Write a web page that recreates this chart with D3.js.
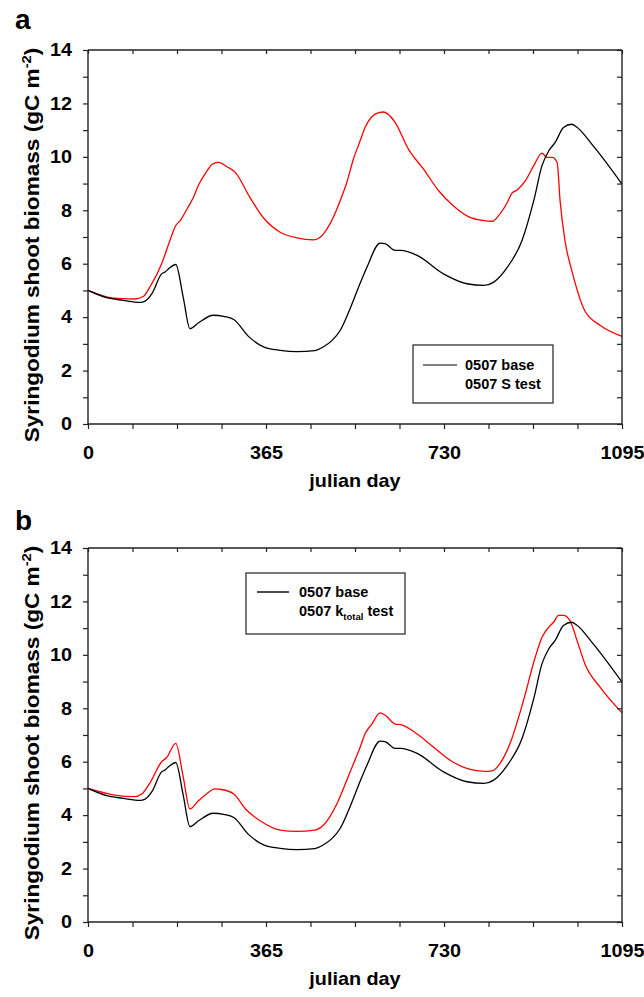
<!DOCTYPE html>
<html>
<head>
<meta charset="utf-8">
<script src="https://cdn.jsdelivr.net/npm/d3@7"></script>
<style>
  html, body { margin: 0; padding: 0; background: #fff; }
  svg { display: block; font-family: "Liberation Sans", Arial, Helvetica, sans-serif; }
  .tick text { font-weight: bold; }
</style>
</head>
<body>
<svg id="chart" width="644" height="997"></svg>
<script>
// Simulated Syringodium shoot biomass (gC m-2) over three years

// Base run (identical in both panels)
const baseDays = [0, 38, 72, 107, 117, 131, 151, 158, 167, 180, 195, 209, 226, 257, 278, 299, 329, 360, 394, 428, 465, 483, 500, 517, 537, 555, 572, 599, 609, 630, 641, 675, 729, 777, 812, 832, 860, 890, 914, 931, 945, 958, 975, 992, 1002, 1036, 1095];
const baseValues = [5.0, 4.73, 4.63, 4.55, 4.6, 4.88, 5.62, 5.69, 5.84, 5.97, 4.77, 3.57, 3.78, 4.07, 4.03, 3.91, 3.28, 2.89, 2.76, 2.71, 2.75, 2.89, 3.12, 3.5, 4.3, 5.13, 5.87, 6.77, 6.75, 6.5, 6.5, 6.31, 5.62, 5.25, 5.19, 5.31, 5.87, 6.87, 8.36, 9.67, 10.23, 10.54, 11.1, 11.22, 11.12, 10.41, 8.98];

// Panel a: S test
const sTestDays = [0, 38, 72, 96, 114, 127, 151, 168, 180, 189, 203, 216, 226, 240, 257, 268, 285, 302, 332, 360, 394, 428, 462, 476, 503, 517, 530, 544, 558, 568, 582, 596, 606, 615, 630, 657, 688, 719, 749, 780, 812, 829, 842, 860, 869, 880, 897, 914, 931, 941, 952, 962, 968, 978, 992, 1019, 1050, 1095];
const sTestValues = [5.0, 4.76, 4.69, 4.68, 4.78, 5.13, 6.0, 6.87, 7.43, 7.61, 8.05, 8.48, 8.92, 9.36, 9.75, 9.79, 9.63, 9.42, 8.48, 7.71, 7.18, 6.97, 6.89, 6.99, 7.74, 8.36, 9.0, 9.9, 10.6, 11.1, 11.5, 11.66, 11.68, 11.6, 11.28, 10.29, 9.54, 8.73, 8.17, 7.76, 7.61, 7.59, 7.8, 8.3, 8.63, 8.76, 9.11, 9.67, 10.14, 9.98, 9.98, 9.79, 8.36, 6.87, 5.75, 4.23, 3.7, 3.28];

// Panel b: k_total test
const kTestDays = [0, 52, 96, 110, 127, 151, 161, 180, 195, 209, 226, 243, 260, 274, 299, 325, 353, 394, 428, 465, 483, 510, 537, 558, 568, 582, 599, 609, 630, 641, 675, 709, 749, 780, 812, 829, 845, 865, 893, 917, 931, 945, 955, 965, 975, 988, 1005, 1019, 1050, 1095];
const kTestValues = [5.0, 4.76, 4.69, 4.79, 5.21, 6.0, 6.15, 6.69, 5.45, 4.23, 4.53, 4.79, 4.98, 4.96, 4.79, 4.19, 3.79, 3.44, 3.39, 3.44, 3.63, 4.41, 5.6, 6.54, 7.04, 7.41, 7.83, 7.75, 7.41, 7.39, 7.04, 6.54, 5.98, 5.73, 5.64, 5.66, 5.94, 6.66, 8.29, 9.91, 10.66, 11.04, 11.23, 11.48, 11.48, 11.29, 10.41, 9.66, 8.79, 7.83];

// Axis ticks
const xMajorTicks = [0, 365, 730, 1095];
const xMinorTicks = d3.range(0, 1095.1, 91.25);
const yTicks = d3.range(0, 15, 1);
const yLabelTicks = [0, 2, 4, 6, 8, 10, 12, 14];

const svg = d3.select("#chart");
const X0 = 88, X1 = 622;
const axisColor = "#222";
const STRETCH = 1.1;   // slightly wide lettering

// widen text horizontally about its anchor point
function widen(sel, s) {
  sel.each(function () {
    const t = d3.select(this);
    const ax = +t.attr("x") || 0;
    t.attr("transform", `translate(${ax},0) scale(${s},1) translate(${-ax},0)`);
  });
}

function zip(days, vals) { return days.map((d, i) => ({ d, v: vals[i] })); }

function drawPanel(opts) {
  const { top, bottom, letter, letterY, series, legend } = opts;
  const x = d3.scaleLinear().domain([0, 1095]).range([X0, X1]);
  const y = d3.scaleLinear().domain([0, 14]).range([bottom, top]);
  const g = svg.append("g");

  // lines
  const line = d3.line().x(p => x(p.d)).y(p => y(p.v)).curve(d3.curveMonotoneX);
  series.forEach(s => {
    g.append("path").datum(zip(s.days, s.values))
      .attr("fill", "none").attr("stroke", s.color).attr("stroke-width", 1.3)
      .attr("d", line);
  });

  // left axis (outward ticks, labels on even values)
  const left = g.append("g").attr("transform", `translate(${X0},0)`)
    .call(d3.axisLeft(y).tickValues(yTicks).tickSize(5).tickPadding(11)
      .tickFormat(v => yLabelTicks.includes(v) ? v : ""));
  // right axis (inward ticks)
  const right = g.append("g").attr("transform", `translate(${X1},0)`)
    .call(d3.axisLeft(y).tickValues(yTicks).tickSize(5).tickFormat(""));
  // bottom axis (outward minor ticks, labelled majors)
  const bottomAx = g.append("g").attr("transform", `translate(0,${bottom})`)
    .call(d3.axisBottom(x).tickValues(xMinorTicks).tickSize(5).tickPadding(17)
      .tickFormat(v => xMajorTicks.includes(v) ? v : ""));
  // top axis (inward ticks)
  const topAx = g.append("g").attr("transform", `translate(0,${top})`)
    .call(d3.axisBottom(x).tickValues(xMinorTicks).tickSize(4).tickFormat(""));

  [left, right, bottomAx, topAx].forEach(a => {
    a.select(".domain").attr("stroke", axisColor).attr("stroke-width", 1.4);
    a.selectAll(".tick line").attr("stroke", axisColor).attr("stroke-width", 1.2);
    a.selectAll(".tick text").attr("font-size", 18).attr("fill", "#000")
      .attr("font-family", "'Liberation Sans', Arial, sans-serif");
  });
  widen(left.selectAll(".tick text"), STRETCH);
  widen(bottomAx.selectAll(".tick text"), STRETCH);
  right.select(".domain").attr("d", `M0,${top}V${bottom}`);
  topAx.select(".domain").attr("d", `M${X0},0H${X1}`);
  left.select(".domain").attr("d", `M0,${top}V${bottom}`);
  bottomAx.select(".domain").attr("d", `M${X0},0H${X1}`);

  // axis titles
  const xt = g.append("text")
    .attr("x", (X0 + X1) / 2).attr("y", bottom + 63)
    .attr("text-anchor", "middle").attr("font-size", 18).attr("font-weight", "bold")
    .text("julian day");
  widen(xt, STRETCH);

  const yt = g.append("text")
    .attr("transform", `translate(39,${(top + bottom) / 2 + 8}) rotate(-90) scale(1.13,1)`)
    .attr("text-anchor", "middle").attr("font-size", 20).attr("font-weight", "bold");
  yt.append("tspan").text("Syringodium shoot biomass (gC m");
  yt.append("tspan").attr("font-size", 13).attr("dy", -8).text("-2");
  yt.append("tspan").attr("dy", 8).text(")");

  // panel letter
  g.append("text").attr("x", 15).attr("y", letterY)
    .attr("font-size", 28).attr("font-weight", "bold").text(letter);

  // legend
  const L = legend;
  g.append("rect").attr("x", L.x).attr("y", L.y).attr("width", L.w).attr("height", L.h)
    .attr("fill", "#fff").attr("stroke", axisColor).attr("stroke-width", 1.2);
  g.append("line").attr("x1", L.x + L.lineX0).attr("x2", L.x + L.lineX1)
    .attr("y1", L.y + L.row1).attr("y2", L.y + L.row1)
    .attr("stroke", L.lineColor).attr("stroke-width", 1.4);
  g.append("text").attr("x", L.x + L.textX).attr("y", L.y + L.row1 + 5)
    .attr("font-size", 14.5).attr("font-weight", "bold").text(L.label1);
  const t2 = g.append("text").attr("x", L.x + L.textX).attr("y", L.y + L.row2 + 5)
    .attr("font-size", 14.5).attr("font-weight", "bold");
  L.label2.forEach(part => {
    const ts = t2.append("tspan").text(part.t);
    if (part.sub) ts.attr("font-size", 9.5).attr("dy", 4);
    if (part.after) ts.attr("dy", -4);
  });
}

drawPanel({
  top: 50, bottom: 424, letter: "a", letterY: 29,
  series: [
    { days: sTestDays, values: sTestValues, color: "#ff0000" },
    { days: baseDays, values: baseValues, color: "#000" }
  ],
  legend: { x: 413, y: 345, w: 140, h: 58, lineX0: 10, lineX1: 44, textX: 52, row1: 20, row2: 39,
    lineColor: "#555", label1: "0507 base", label2: [{ t: "0507 S test" }] }
});

drawPanel({
  top: 548, bottom: 922, letter: "b", letterY: 530,
  series: [
    { days: kTestDays, values: kTestValues, color: "#ff0000" },
    { days: baseDays, values: baseValues, color: "#000" }
  ],
  legend: { x: 246, y: 573, w: 159, h: 61, lineX0: 11, lineX1: 43, textX: 53, row1: 19, row2: 38,
    lineColor: "#000", label1: "0507 base",
    label2: [{ t: "0507 k" }, { t: "total", sub: true }, { t: " test", after: true }] }
});
</script>
</body>
</html>
